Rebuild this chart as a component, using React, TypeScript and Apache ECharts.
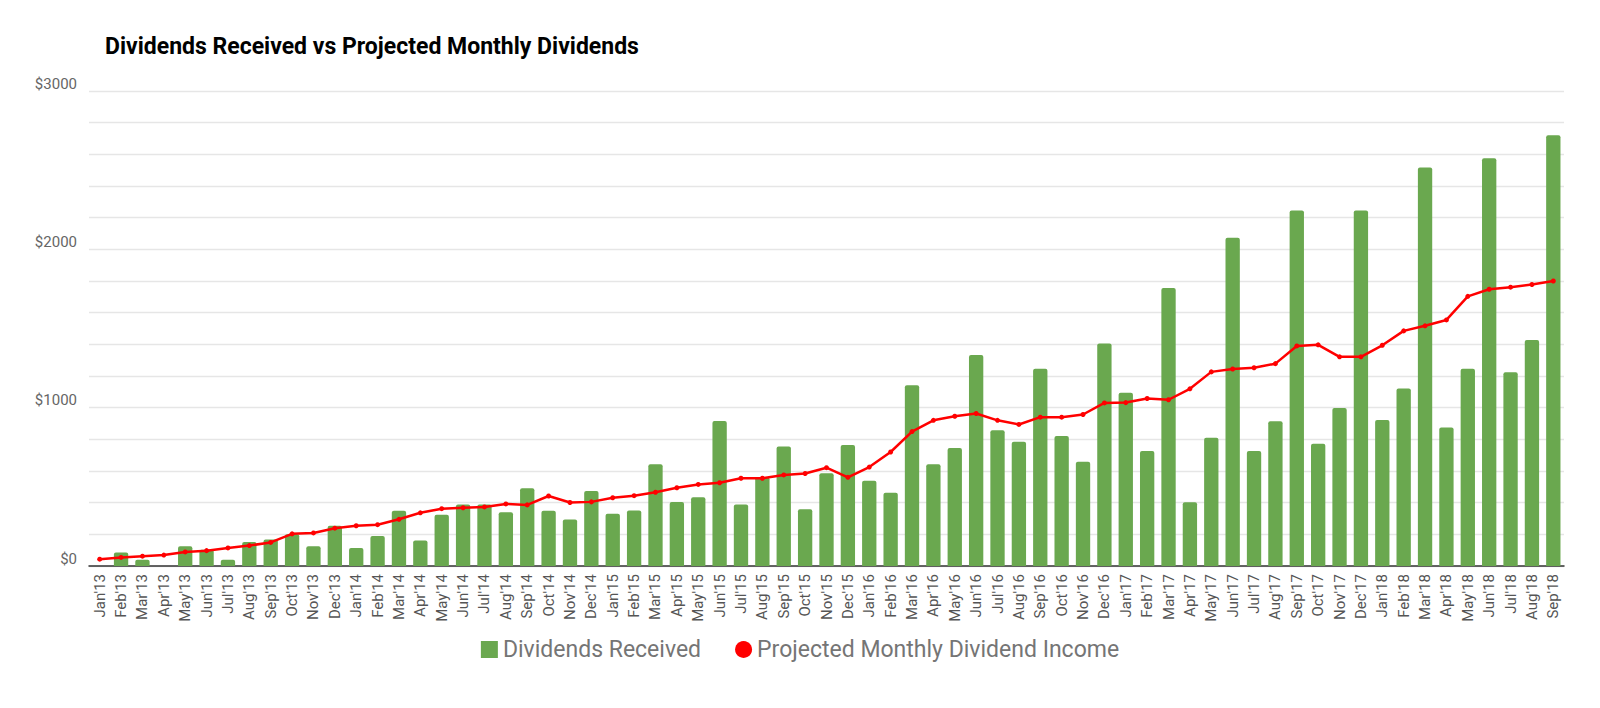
import React, { useEffect, useRef } from "react";
import * as echarts from "echarts";

const months = ["Jan","Feb","Mar","Apr","May","Jun","Jul","Aug","Sep","Oct","Nov","Dec"];
const categories: string[] = [];
for (let y = 13; y <= 18; y++) for (const m of months) categories.push(`${m}'${y}`);
const cats = categories.slice(0, 69);

const dividendsReceived = [
  0, 86, 39, 0, 125, 103, 39, 151, 168, 200, 125, 254,
  114, 190, 349, 161, 323, 388, 388, 340, 491, 349, 293, 474,
  330, 351, 642, 405, 435, 916, 388, 560, 754, 358, 586, 765,
  539, 463, 1142, 642, 746, 1332, 858, 784, 1246, 821, 659, 1405,
  1095, 726, 1756, 403, 810, 2073, 726, 914, 2246, 772, 998, 2246,
  922, 1121, 2517, 875, 1246, 2575, 1224, 1427, 2720,
];
const projectedIncome = [
  43, 54, 62, 69, 89, 97, 114, 129, 149, 203, 209, 239,
  254, 261, 295, 336, 362, 368, 373, 392, 386, 442, 401, 405,
  431, 444, 466, 494, 515, 526, 554, 554, 575, 584, 621, 560,
  625, 720, 849, 920, 946, 963, 920, 894, 940, 940, 957, 1030,
  1032, 1058, 1050, 1119, 1226, 1244, 1252, 1278, 1390, 1397, 1321, 1321,
  1394, 1485, 1517, 1554, 1703, 1748, 1761, 1778, 1800,
];

export default function App() {
  const ref = useRef<HTMLDivElement>(null);
  useEffect(() => {
    const chart = echarts.init(ref.current!, undefined, { renderer: "svg" });
    chart.setOption({
      animation: false,
      backgroundColor: "#ffffff",
      textStyle: { fontFamily: "Roboto" },
      title: {
        text: "Dividends Received vs Projected Monthly Dividends",
        left: 100, top: 30,
        textStyle: { fontFamily: "Roboto", fontWeight: "bold", fontSize: 23, color: "#000" },
      },
      grid: { left: 89, right: 36, top: 91, bottom: 142 },
      legend: {
        bottom: 42, left: "center", itemGap: 34, itemWidth: 17, itemHeight: 17,
        textStyle: { fontSize: 23, color: "#757575" },
        data: [
          { name: "Dividends Received", icon: "rect" },
          { name: "Projected Monthly Dividend Income", icon: "circle" },
        ],
      },
      xAxis: {
        type: "category", data: cats,
        axisLine: { lineStyle: { color: "#333", width: 1.5 } },
        axisTick: { show: false },
        axisLabel: { rotate: 90, interval: 0, fontSize: 15, color: "#555", margin: 8 },
      },
      yAxis: {
        type: "value", min: 0, max: 3000, interval: 200,
        axisLine: { show: false }, axisTick: { show: false },
        splitLine: { lineStyle: { color: "#e6e6e6", width: 1.3 } },
        axisLabel: {
          fontSize: 15, color: "#666", margin: 12, verticalAlign: "bottom",
          formatter: (v: number) => (v % 1000 === 0 ? `$${v}` : ""),
        },
      },
      series: [
        {
          name: "Dividends Received", type: "bar", data: dividendsReceived,
          barCategoryGap: "33%", itemStyle: { color: "#6aa84f", borderRadius: [2, 2, 0, 0] },
        },
        {
          name: "Projected Monthly Dividend Income", type: "line", data: projectedIncome,
          symbol: "circle", symbolSize: 5, itemStyle: { color: "#ff0000" },
          lineStyle: { color: "#ff0000", width: 2.5 },
        },
      ],
    });
    return () => chart.dispose();
  }, []);
  return <div ref={ref} style={{ position: "fixed", left: 0, top: 0, width: 1600, height: 708 }} />;
}
